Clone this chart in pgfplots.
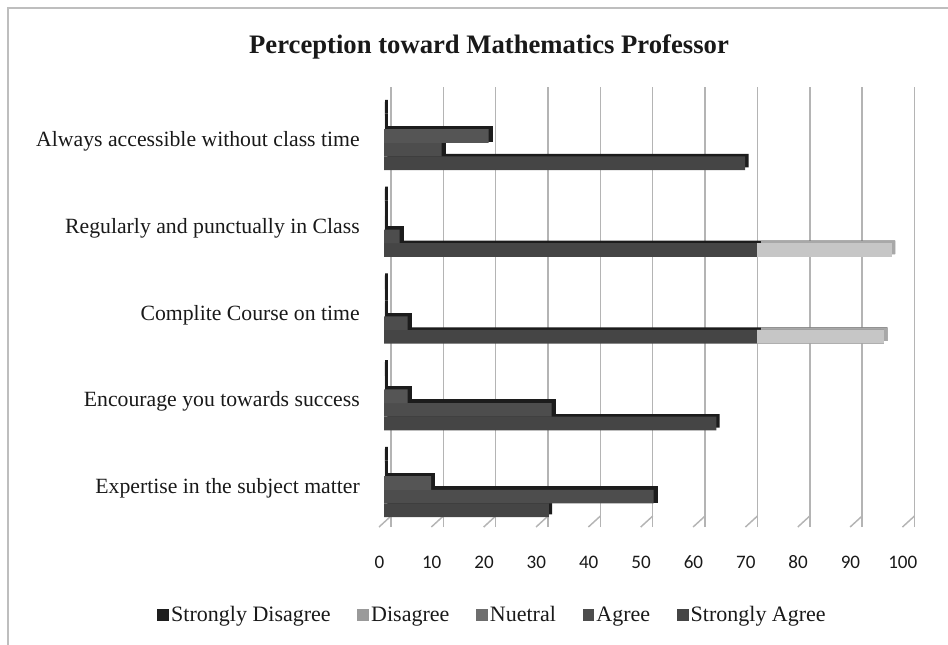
\documentclass[border=0pt]{standalone}
\usepackage{fontspec}
\setmainfont{Liberation Serif}
\newfontfamily\carlito{Carlito}
\usepackage{pgfplots}
\pgfplotsset{compat=1.18}
\definecolor{cTop}{HTML}{1C1C1C}
\definecolor{cSD}{HTML}{1E1E1E}
\definecolor{cD}{HTML}{9A9A9A}
\definecolor{cN}{HTML}{555555}
\definecolor{cA}{HTML}{4D4D4D}
\definecolor{cSA}{HTML}{454545}
\definecolor{cLight}{HTML}{C6C6C6}
\definecolor{cLightTop}{HTML}{A8A8A8}
\definecolor{cGrid}{HTML}{B4B4B4}
\definecolor{cFrame}{HTML}{BEBEBE}
\newcommand\lightpast[1]{\pgfsetfillcolor{#1}\pgfpathrectangle{\pgfplotspointaxisxy{71.3}{-1}}{\pgfpoint{300pt}{400pt}}\pgfusepath{fill}}
\begin{document}
\begin{tikzpicture}[x=0.75pt,y=-0.75pt]
\path[use as bounding box] (0,0) rectangle (948,644);
\draw[cFrame, line width=1.3pt] (8,660) -- (8,8) -- (960,8);
\node[font=\bfseries\fontsize{20}{22}\selectfont, anchor=base, text=black!90] at (489,53) {Perception toward Mathematics Professor};
\begin{axis}[
  at={(288pt,-395.25pt)}, anchor=south west,
  scale only axis, width=392.6pt, height=330pt,
  xmin=0, xmax=100, ymin=-0.507, ymax=4.565,
  clip=false,
  axis line style={draw=none},
  major tick length=0pt,
  xtick={0,10,...,100},
  xticklabels={0,10,20,30,40,50,60,70,80,90,100},
  ytick={0,1,2,3,4},
  yticklabels={Expertise in the subject matter,Encourage you towards success,Complite Course on time~,Regularly and punctually in Class~,Always accessible without class time},
  xmajorgrids,
  grid style={cGrid, line width=1.1pt, xshift=5.25pt},
  xticklabel style={font=\carlito\fontsize{14.3}{16}\selectfont, anchor=base, yshift=-31pt, xshift=-3.5pt, text=black!90},
  yticklabel style={font=\fontsize{16.3}{18}\selectfont, anchor=east, inner sep=0pt, xshift=-18pt, yshift=-4pt, text=black!90},
  legend style={at={(0.208,-0.2)}, anchor=center, draw=none, fill=none,
    font=\fontsize{16.5}{18}\selectfont, text=black!90,
    /tikz/every even column/.append style={column sep=18pt}},
  legend columns=5,
  bar width=0.157,
]
\pgfplotsinvokeforeach{0,10,...,100}{
  \draw[cGrid, line width=1.1pt] (axis cs:#1,-0.507) ++(-3.75pt,0pt) -- ++(9pt,8.25pt);
}
% Strongly Agree (bottom lane)
\addplot[xbar, bar shift=-0.314, fill=cTop, draw=none, xshift=2.5pt, yshift=2pt, forget plot,
  path picture={\lightpast{cLightTop}}]
  coordinates {(31.5,0) (63.5,1) (95.5,2) (97,3) (69,4)};
\addplot[xbar, bar shift=-0.314, fill=cSA, draw=none, forget plot,
  path picture={\lightpast{cLight}}]
  coordinates {(31.5,0) (63.5,1) (95.5,2) (97,3) (69,4)};
% Agree
\addplot[xbar, bar shift=-0.157, fill=cTop, draw=cTop, line width=2.4pt, xshift=2pt, yshift=1.5pt, forget plot]
  coordinates {(51.5,0) (32,1) (4.5,2) (3,3) (11,4)};
\addplot[xbar, bar shift=-0.157, fill=cA, draw=none, forget plot]
  coordinates {(51.5,0) (32,1) (4.5,2) (3,3) (11,4)};
% Nuetral
\addplot[xbar, bar shift=0, fill=cTop, draw=cTop, line width=2.4pt, xshift=2pt, yshift=1.5pt, forget plot]
  coordinates {(9,0) (4.5,1) (0,2) (0,3) (20,4)};
\addplot[xbar, bar shift=0, fill=cN, draw=none, forget plot]
  coordinates {(9,0) (4.5,1) (0,2) (0,3) (20,4)};
% Disagree
\addplot[xbar, bar shift=0.157, fill=cTop, draw=cTop, line width=2.4pt, xshift=2pt, yshift=1.5pt, forget plot]
  coordinates {(0,0) (0,1) (0,2) (0,3) (0,4)};
\addplot[xbar, bar shift=0.157, fill=cD, draw=none, forget plot]
  coordinates {(0,0) (0,1) (0,2) (0,3) (0,4)};
% Strongly Disagree (top lane)
\addplot[xbar, bar shift=0.314, fill=cTop, draw=cTop, line width=2.4pt, xshift=2pt, yshift=1.5pt, forget plot]
  coordinates {(0,0) (0,1) (0,2) (0,3) (0,4)};
\addplot[xbar, bar shift=0.314, fill=cSD, draw=none, forget plot]
  coordinates {(0,0) (0,1) (0,2) (0,3) (0,4)};
% legend
\addlegendimage{legend image code/.code={\fill[cSD] (0pt,-4pt) rectangle (8pt,4.5pt);}}
\addlegendentry{Strongly Disagree}
\addlegendimage{legend image code/.code={\fill[cD] (0pt,-4pt) rectangle (8pt,4.5pt);}}
\addlegendentry{Disagree}
\addlegendimage{legend image code/.code={\fill[cN!85!white] (0pt,-4pt) rectangle (8pt,4.5pt);}}
\addlegendentry{Nuetral}
\addlegendimage{legend image code/.code={\fill[cA] (0pt,-4pt) rectangle (8pt,4.5pt);}}
\addlegendentry{Agree}
\addlegendimage{legend image code/.code={\fill[cSA] (0pt,-4pt) rectangle (8pt,4.5pt);}}
\addlegendentry{Strongly Agree}
\end{axis}
\end{tikzpicture}
\end{document}
